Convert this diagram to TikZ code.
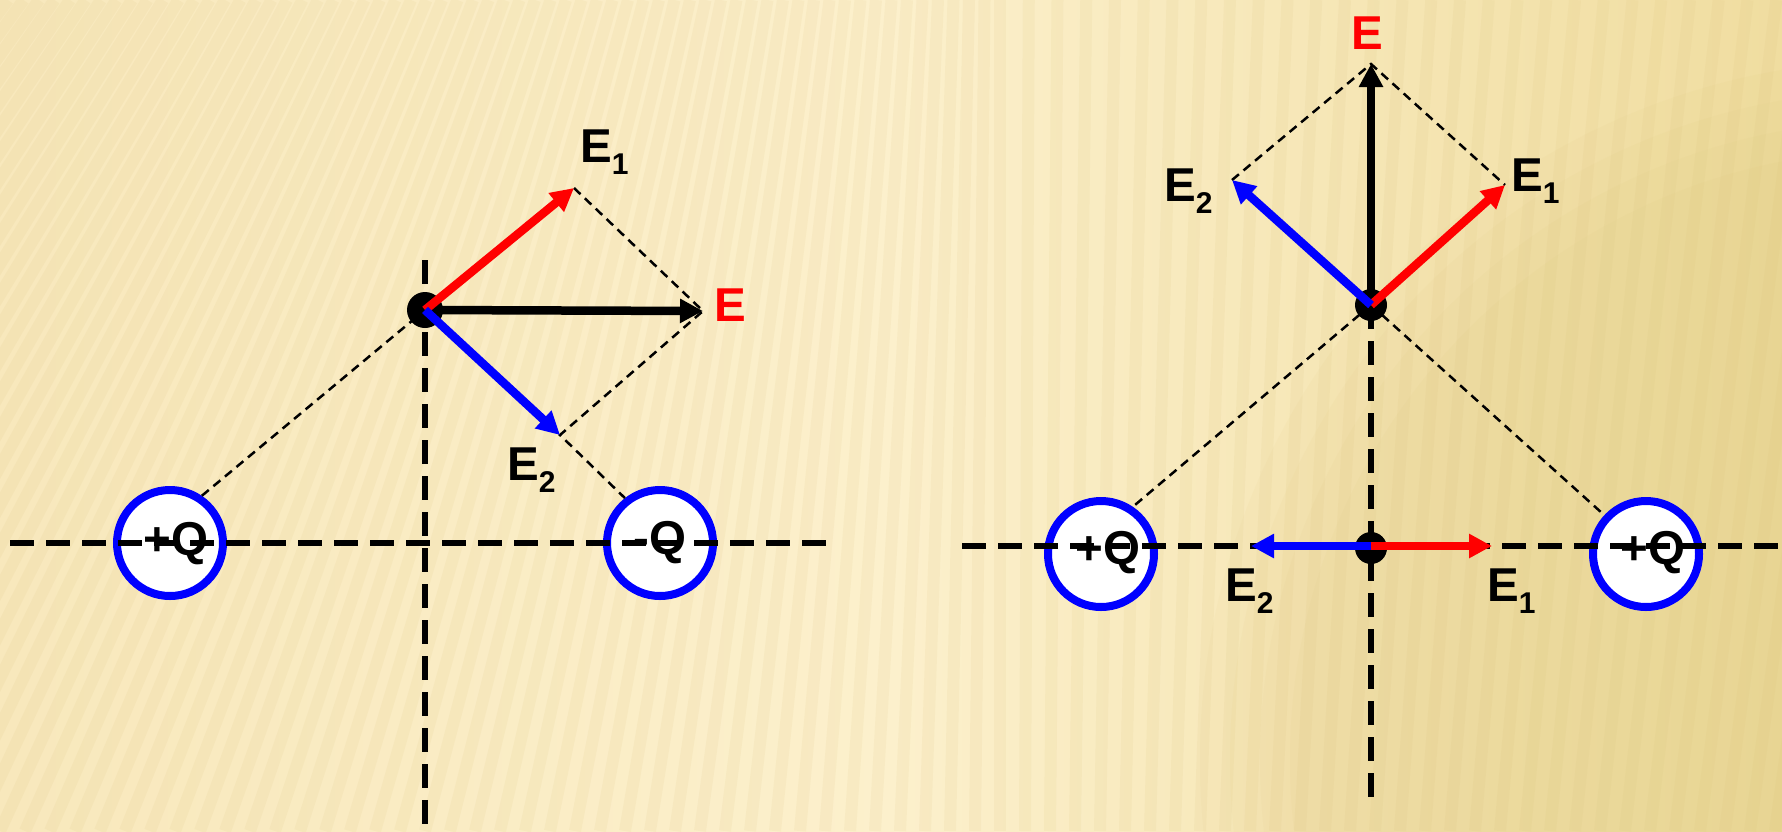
\documentclass[tikz,border=0pt]{standalone}
\usepackage{fontspec}
\setmainfont{Liberation Sans}
\usetikzlibrary{arrows.meta}
\definecolor{bgL}{HTML}{F8E8BC}
\definecolor{bgM}{HTML}{FCF0CC}
\definecolor{bgR}{HTML}{F0DDA0}
\definecolor{stripec}{HTML}{D6BC74}
\definecolor{patchc}{HTML}{D8BE6C}
\definecolor{qblue}{RGB}{0,0,255}
\definecolor{vred}{RGB}{255,0,0}
\newcommand{\lblsub}[2]{#1\raisebox{-0.27em}{\fontsize{30}{30}\selectfont #2}}
\tikzset{
  charge/.style={circle, draw=qblue, fill=white, line width=8pt, minimum size=106pt, inner sep=0pt},
  dotnode/.style={circle, fill=black, inner sep=0pt, minimum size=34pt},
  axisline/.style={line width=6pt, dash pattern=on 24pt off 12pt},
  guide/.style={line width=2.5pt, dash pattern=on 9pt off 6pt},
  vec/.style={line width=8.5pt, -{Triangle[length=23pt,width=23pt]}},
  txt/.style={font=\fontsize{47.5}{50}\selectfont\bfseries, inner sep=0pt, anchor=base west},
  qtxt/.style={font=\fontsize{47.5}{50}\selectfont\bfseries, inner sep=0pt, anchor=base},
  stripe/.style={line width=12pt, stripec, opacity=0.10}
}
\begin{document}
\begin{tikzpicture}[x=1pt,y=-1pt]
\useasboundingbox (0,0) rectangle (1782,831);
% background
\shade[left color=bgL, right color=bgR, middle color=bgM] (0,0) rectangle (1782,831);
\begin{scope}
  \clip (0,0) rectangle (1782,831);
  \foreach \r in {700,670,640,610}{
    \fill[patchc, opacity=0.06] (1900,760) circle (\r);
  }
  \foreach \x in {-700,-675,...,2000}{
    \pgfmathsetmacro\s{\x<1000 ? 0.38*(1000-\x) : 0.15*(\x-1000)}
    \draw[stripe] (\x,831) -- (\x+\s,0);
  }
\end{scope}

% ---------- left diagram ----------
\node[charge] (qA) at (170,543) {};
\node[charge] (qB) at (660,543) {};
\coordinate (hL1) at (10,543);
\coordinate (hL2) at (830,543);
\coordinate (vL1) at (425,260);
\coordinate (vL2) at (425,831);
\draw[axisline] (hL1) -- (hL2);
\draw[axisline] (vL1) -- (vL2);
\node[qtxt] (qAt) at (176,555) {+Q};
\node[qtxt] (qBt) at (660,554) {-Q};

\node[dotnode, minimum size=36pt] (P1) at (425,310) {};
\coordinate (L1) at (574,188);
\coordinate (LE) at (703,311);
\coordinate (L2) at (560,435);
\draw[guide] (qA.56) -- (P1.center);
\draw[guide] (L1) -- (LE) -- (L2) -- (qB.128);
\draw[vec, black] (P1.center) -- (LE);
\draw[vec, vred] (P1.center) -- (L1);
\draw[vec, qblue] (P1.center) -- (L2);
\node[txt] (tL1) at (580,162) {\lblsub{E}{1}};
\node[txt, text=vred] (tLE) at (714,321) {E};
\node[txt] (tL2) at (507,480) {\lblsub{E}{2}};

% ---------- right diagram ----------
\node[charge] (qC) at (1101,554) {};
\node[charge] (qD) at (1646,554) {};
\coordinate (hR1) at (962,546);
\coordinate (hR2) at (1782,546);
\coordinate (vR2) at (1371,806);
\node[dotnode, minimum size=32pt] (P2) at (1371,305) {};
\draw[axisline] (hR1) -- (hR2);
\draw[axisline] (P2.center) -- (vR2);
\node[dotnode, minimum size=32pt] (P3) at (1371,548) {};
\node[qtxt] (qCt) at (1108,564) {+Q};
\node[qtxt] (qDt) at (1653,564) {+Q};

\coordinate (R1) at (1505,185);
\coordinate (RE) at (1371,64);
\coordinate (R2) at (1232,180);
\coordinate (S1) at (1492,546);
\coordinate (S2) at (1251,546);
\draw[guide] (R2) -- (RE) -- (R1);
\draw[guide] (P2.center) -- (qC.56);
\draw[guide] (P2.center) -- (qD.137);
\draw[vec, black] (P2.center) -- (RE);
\draw[vec, vred] (P2.center) -- (R1);
\draw[vec, qblue] (P2.center) -- (R2);
\draw[vec, vred] (P3.center |- S1) -- (S1);
\draw[vec, qblue] (P3.center |- S2) -- (S2);
\node[txt, text=vred] (tRE) at (1351,49) {E};
\node[txt] (tR2) at (1164,201) {\lblsub{E}{2}};
\node[txt] (tR1) at (1511,191) {\lblsub{E}{1}};
\node[txt] (tS2) at (1225,601) {\lblsub{E}{2}};
\node[txt] (tS1) at (1487,601) {\lblsub{E}{1}};
\end{tikzpicture}
\end{document}
